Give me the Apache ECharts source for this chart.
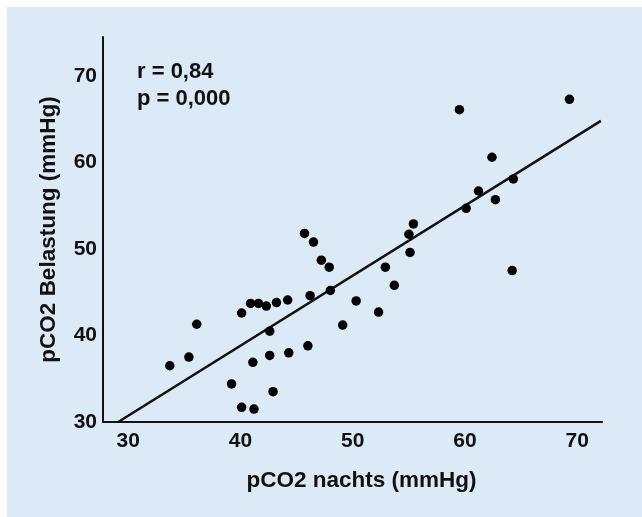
<!DOCTYPE html>
<html>
<head>
<meta charset="utf-8">
<script src="https://cdn.jsdelivr.net/npm/echarts@6/dist/echarts.min.js"></script>
<style>
  html, body { margin: 0; padding: 0; background: #fff; }
  #chart { width: 642px; height: 517px; }
</style>
</head>
<body>
<div id="chart"></div>
<script>
// pCO2 nachts (x) vs. pCO2 Belastung (y), mmHg
const nachts = [
  36.1, 40.1, 40.9, 41.6, 42.3, 43.2, 44.2, 42.6, 45.7, 46.5,
  47.2, 47.9, 46.2, 48.0, 49.1, 50.3, 52.3, 52.9, 53.7, 55.1,
  55.0, 55.4, 60.1, 62.7, 61.2, 64.2, 59.5, 69.3, 62.4, 64.3,
  33.7, 35.4, 41.1, 42.6, 44.3, 46.0, 39.2, 42.9, 40.1, 41.2
];
const belastung = [
  41.3, 42.6, 43.7, 43.7, 43.4, 43.8, 44.1, 40.5, 51.8, 50.8,
  48.7, 47.9, 44.6, 45.2, 41.2, 44.0, 42.7, 47.9, 45.8, 49.6,
  51.7, 52.9, 54.7, 55.7, 56.7, 47.5, 66.1, 67.3, 60.6, 58.1,
  36.5, 37.5, 36.9, 37.7, 38.0, 38.8, 34.4, 33.5, 31.7, 31.5
];
// Regression line end points
const fitX = [29.1, 72.1];
const fitY = [30.0, 64.8];
const tickValues = [30, 40, 50, 60, 70];
const statsLines = ['r = 0,84', 'p = 0,000'];

const FONT = '"Liberation Sans", Arial, sans-serif';
const chart = echarts.init(document.getElementById('chart'));

chart.setOption({
  backgroundColor: '#fff',
  animation: false,
  graphic: [
    {
      type: 'rect',
      silent: true,
      z: -10,
      shape: { x: 7, y: 7, width: 635, height: 510 },
      style: { fill: '#dce9f7' },
    },
    {
      type: 'text',
      left: 137,
      top: 58,
      style: {
        text: statsLines.join('\n'),
        font: 'bold 22px ' + FONT,
        lineHeight: 27,
        fill: '#111',
      },
    },
  ],
  grid: { left: 103, right: 40, top: 37, bottom: 95 },
  xAxis: {
    type: 'value',
    min: 27.75,
    max: 72.2,
    name: 'pCO2 nachts (mmHg)',
    nameLocation: 'middle',
    nameGap: 47,
    nameTextStyle: {
      fontFamily: FONT, fontWeight: 'bold', fontSize: 22.5, color: '#111',
      padding: [0, 0, 0, 18],
    },
    axisLine: { lineStyle: { color: '#111', width: 2 } },
    axisTick: { show: false },
    splitLine: { show: false },
    axisLabel: {
      customValues: tickValues,
      fontFamily: FONT,
      fontWeight: 'bold',
      fontSize: 21,
      color: '#111',
      margin: 9,
    },
  },
  yAxis: {
    type: 'value',
    min: 30,
    max: 74.5,
    name: 'pCO2 Belastung (mmHg)',
    nameLocation: 'middle',
    nameGap: 43,
    nameTextStyle: { fontFamily: FONT, fontWeight: 'bold', fontSize: 22.5, color: '#111' },
    axisLine: { show: true, lineStyle: { color: '#111', width: 2 } },
    axisTick: { show: false },
    splitLine: { show: false },
    axisLabel: {
      customValues: tickValues,
      fontFamily: FONT,
      fontWeight: 'bold',
      fontSize: 21,
      color: '#111',
      margin: 6,
    },
  },
  series: [
    {
      type: 'line',
      data: fitX.map((x, i) => [x, fitY[i]]),
      symbol: 'none',
      lineStyle: { color: '#111', width: 2.5 },
      z: 2,
    },
    {
      type: 'scatter',
      data: nachts.map((x, i) => [x, belastung[i]]),
      symbolSize: 9.5,
      itemStyle: { color: '#000', opacity: 1 },
      z: 3,
    },
  ],
});
</script>
</body>
</html>
